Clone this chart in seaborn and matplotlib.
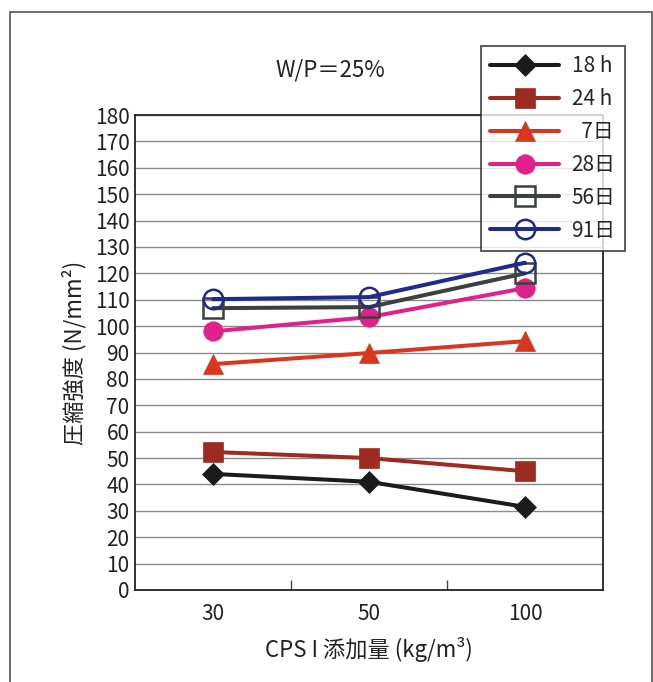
import numpy as np
import pandas as pd
import matplotlib
matplotlib.use("Agg")
import matplotlib.pyplot as plt
from matplotlib.patches import Rectangle
import seaborn as sns

# CPS I 添加量 (kg/m3)
dosage = ["30", "50", "100"]

# 圧縮強度 (N/mm2) per curing age
s_18h = [44.0, 41.0, 31.5]
s_24h = [52.3, 50.0, 45.0]
s_7d = [85.6, 89.8, 94.3]
s_28d = [98.0, 103.4, 114.4]
s_56d = [106.8, 107.2, 120.0]
s_91d = [110.2, 111.0, 124.0]

ages = ["18 h", "24 h", "  7日", "28日", "56日", "91日"]
series = [s_18h, s_24h, s_7d, s_28d, s_56d, s_91d]

colors = ["#1b1b1b", "#9e2b22", "#d8361f", "#e0208c", "#3b413c", "#1f2a8c"]
markers = ["D", "s", "^", "o", "s", "o"]
msizes = [11, 15, 15, 14, 14, 14]
filled = [True, True, True, True, False, False]

sns.set_theme(style="white")
plt.rcParams["font.family"] = ["Noto Sans CJK JP", "DejaVu Sans"]

fig = plt.figure(figsize=(6.53, 6.82), dpi=100)
ax = fig.add_axes([135 / 653, 92 / 682, 468 / 653, 475 / 682])

rows = []
for age, vals in zip(ages, series):
    for d, v in zip(dosage, vals):
        rows.append({"dosage": d, "strength": v, "age": age})
df = pd.DataFrame(rows)

for i, age in enumerate(ages):
    sub = df[df["age"] == age]
    sns.lineplot(
        data=sub, x="dosage", y="strength", ax=ax,
        color=colors[i], linewidth=2.9, marker=markers[i],
        markersize=msizes[i],
        markerfacecolor=colors[i] if filled[i] else "none",
        markeredgecolor=colors[i], markeredgewidth=1.8 if not filled[i] else 0.5,
        label=age, zorder=3 + i,
    )

ax.set_xlim(-0.5, len(dosage) - 0.5)
ax.set_ylim(0, 180)
ax.set_yticks(np.arange(0, 181, 10))
ax.set_xticks(range(len(dosage)))
ax.set_xticklabels(dosage)
ax.set_xticks(np.arange(0.5, len(dosage) - 0.5, 1.0), minor=True)
ax.tick_params(axis="x", which="major", length=0, labelsize=15, pad=9, colors="#222222")
ax.tick_params(axis="x", which="minor", length=7, direction="in", width=1, color="#444444", bottom=True)
ax.tick_params(axis="y", length=0, labelsize=15, pad=4, colors="#222222")
ax.grid(axis="y", color="#8a8a8a", linewidth=1)
ax.set_axisbelow(True)
for sp in ax.spines.values():
    sp.set_color("#222222")
    sp.set_linewidth(1.3)

ax.set_xlabel("CPS I 添加量 (kg/m³)", fontsize=16, labelpad=9, color="#222222")
ax.set_ylabel("圧縮強度 (N/mm²)", fontsize=16, labelpad=6, color="#222222")

if ax.get_legend() is not None:
    ax.get_legend().remove()
handles, labels = ax.get_legend_handles_labels()
leg = fig.legend(
    handles, labels, loc="upper left",
    bbox_to_anchor=(481 / 653, 1 - 46 / 682), borderaxespad=0,
    frameon=True, fancybox=False, edgecolor="#222222", fontsize=15,
    handlelength=3.3, labelspacing=0.52, borderpad=0.45, handletextpad=0.6,
)
leg.get_frame().set_linewidth(1.3)
leg.set_zorder(20)

fig.text(330 / 653, 1 - 70 / 682, "W/P＝25%", ha="center", va="center",
         fontsize=16, color="#222222")

frame = Rectangle((10 / 653, -0.05), 642 / 653, 1.05 - 12 / 682,
                  transform=fig.transFigure, fill=False,
                  edgecolor="#555555", linewidth=1.2, clip_on=False)
fig.patches.append(frame)

fig.savefig("out.png", dpi=100)
